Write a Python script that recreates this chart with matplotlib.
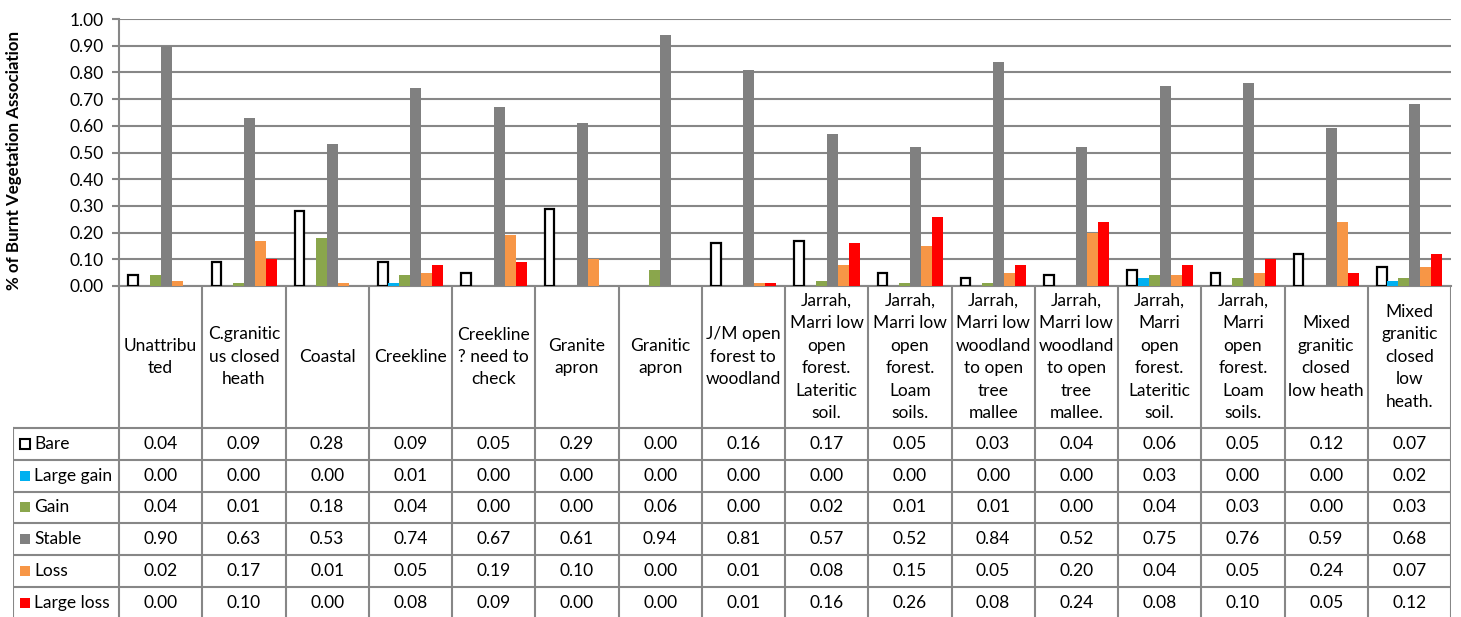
import matplotlib.pyplot as plt
from matplotlib.patches import Rectangle
import numpy as np

plt.rcParams['font.family'] = ['Lato', 'DejaVu Sans']

kategorie = [
    "Unattribu\nted", "C.granitic\nus closed\nheath", "Coastal", "Creekline",
    "Creekline\n? need to\ncheck", "Granite\napron", "Granitic\napron",
    "J/M open\nforest to\nwoodland",
    "Jarrah,\nMarri low\nopen\nforest.\nLateritic\nsoil.",
    "Jarrah,\nMarri low\nopen\nforest.\nLoam\nsoils.",
    "Jarrah,\nMarri low\nwoodland\nto open\ntree\nmallee",
    "Jarrah,\nMarri low\nwoodland\nto open\ntree\nmallee.",
    "Jarrah,\nMarri\nopen\nforest.\nLateritic\nsoil.",
    "Jarrah,\nMarri\nopen\nforest.\nLoam\nsoils.",
    "Mixed\ngranitic\nclosed\nlow heath",
    "Mixed\ngranitic\nclosed\nlow\nheath.",
]

bare = [0.04, 0.09, 0.28, 0.09, 0.05, 0.29, 0.00, 0.16, 0.17, 0.05, 0.03, 0.04, 0.06, 0.05, 0.12, 0.07]
large_gain = [0.00, 0.00, 0.00, 0.01, 0.00, 0.00, 0.00, 0.00, 0.00, 0.00, 0.00, 0.00, 0.03, 0.00, 0.00, 0.02]
gain = [0.04, 0.01, 0.18, 0.04, 0.00, 0.00, 0.06, 0.00, 0.02, 0.01, 0.01, 0.00, 0.04, 0.03, 0.00, 0.03]
stable = [0.90, 0.63, 0.53, 0.74, 0.67, 0.61, 0.94, 0.81, 0.57, 0.52, 0.84, 0.52, 0.75, 0.76, 0.59, 0.68]
loss = [0.02, 0.17, 0.01, 0.05, 0.19, 0.10, 0.00, 0.01, 0.08, 0.15, 0.05, 0.20, 0.04, 0.05, 0.24, 0.07]
large_loss = [0.00, 0.10, 0.00, 0.08, 0.09, 0.00, 0.00, 0.01, 0.16, 0.26, 0.08, 0.24, 0.08, 0.10, 0.05, 0.12]

serie = [
    ("Bare", bare, "white"),
    ("Large gain", large_gain, "#00B0F0"),
    ("Gain", gain, "#8AA64C"),
    ("Stable", stable, "#808080"),
    ("Loss", loss, "#F79646"),
    ("Large loss", large_loss, "#FF0000"),
]

W, H = 1461, 617
mrizka = "#878787"
pismo = 12.5
fig = plt.figure(figsize=(W / 100, H / 100), dpi=100)

# graf se sloupci
ax = fig.add_axes([119 / W, (617 - 286) / H, (1451 - 119) / W, (286 - 19) / H])
n = len(kategorie)
x = np.arange(n)
sirka = 11 / 83.25
for i, (nazev, hodnoty, barva) in enumerate(serie):
    off = (i - 2.5) * sirka
    if nazev == "Bare":
        # nulove hodnoty nemaji obrys
        lws = [1.6 if v > 0 else 0 for v in hodnoty]
        ax.bar(x + off, hodnoty, sirka * 0.85, color="white", edgecolor="black",
               linewidth=lws, zorder=3)
    else:
        ax.bar(x + off, hodnoty, sirka, color=barva, linewidth=0, zorder=3)

ax.set_xlim(-0.5, n - 0.5)
ax.set_ylim(0, 1.0)
ax.set_yticks(np.arange(0, 1.01, 0.1))
ax.set_yticklabels([f"{v:.2f}" for v in np.arange(0, 1.01, 0.1)], fontsize=pismo)
ax.yaxis.grid(True, color=mrizka, linewidth=1.5, zorder=0)
ax.set_xticks([])
ax.tick_params(axis="y", length=5, width=1.5, color=mrizka, pad=6)
for s in ["top", "right"]:
    ax.spines[s].set_visible(False)
for s in ["left", "bottom"]:
    ax.spines[s].set_color(mrizka)
    ax.spines[s].set_linewidth(1.5)
fig.text(14 / W, 1 - 160 / H, "% of Burnt Vegetation Association", rotation=90,
         ha="center", va="center", fontsize=12.2, fontweight="bold")

# datova tabulka pod grafem
leg_w = 106 / 83.25
tab = fig.add_axes([13 / W, -2 / H, (1451 - 13) / W, 333 / H])
tab.set_xlim(-0.5 - leg_w, n - 0.5)
tab.set_ylim(333, 0)
tab.axis("off")
hlava = 142
radek = 31.75
lw = 1.5

for k in range(n + 1):
    tab.plot([k - 0.5, k - 0.5], [0, 333], color=mrizka, lw=lw)
tab.plot([-0.5 - leg_w] * 2, [hlava, 333], color=mrizka, lw=lw)
for r in range(7):
    y = hlava + r * radek
    tab.plot([-0.5 - leg_w, n - 0.5], [y, y], color=mrizka, lw=lw)

for j, txt in enumerate(kategorie):
    tab.text(j, hlava / 2, txt, ha="center", va="center", fontsize=pismo,
             linespacing=1.5)

sq = 10 / 83.25
for r, (nazev, hodnoty, barva) in enumerate(serie):
    yc = hlava + (r + 0.5) * radek
    x0 = -0.5 - leg_w + 7 / 83.25
    if nazev == "Bare":
        tab.add_patch(Rectangle((x0, yc - 5), sq, 10, facecolor="white",
                                edgecolor="black", lw=1.5))
    else:
        tab.add_patch(Rectangle((x0, yc - 5), sq, 10, facecolor=barva, lw=0))
    tab.text(x0 + sq + 4 / 83.25, yc, nazev, ha="left", va="center", fontsize=pismo)
    for j, v in enumerate(hodnoty):
        tab.text(j, yc, f"{v:.2f}", ha="center", va="center", fontsize=pismo)

fig.savefig("out.png", dpi=100)
